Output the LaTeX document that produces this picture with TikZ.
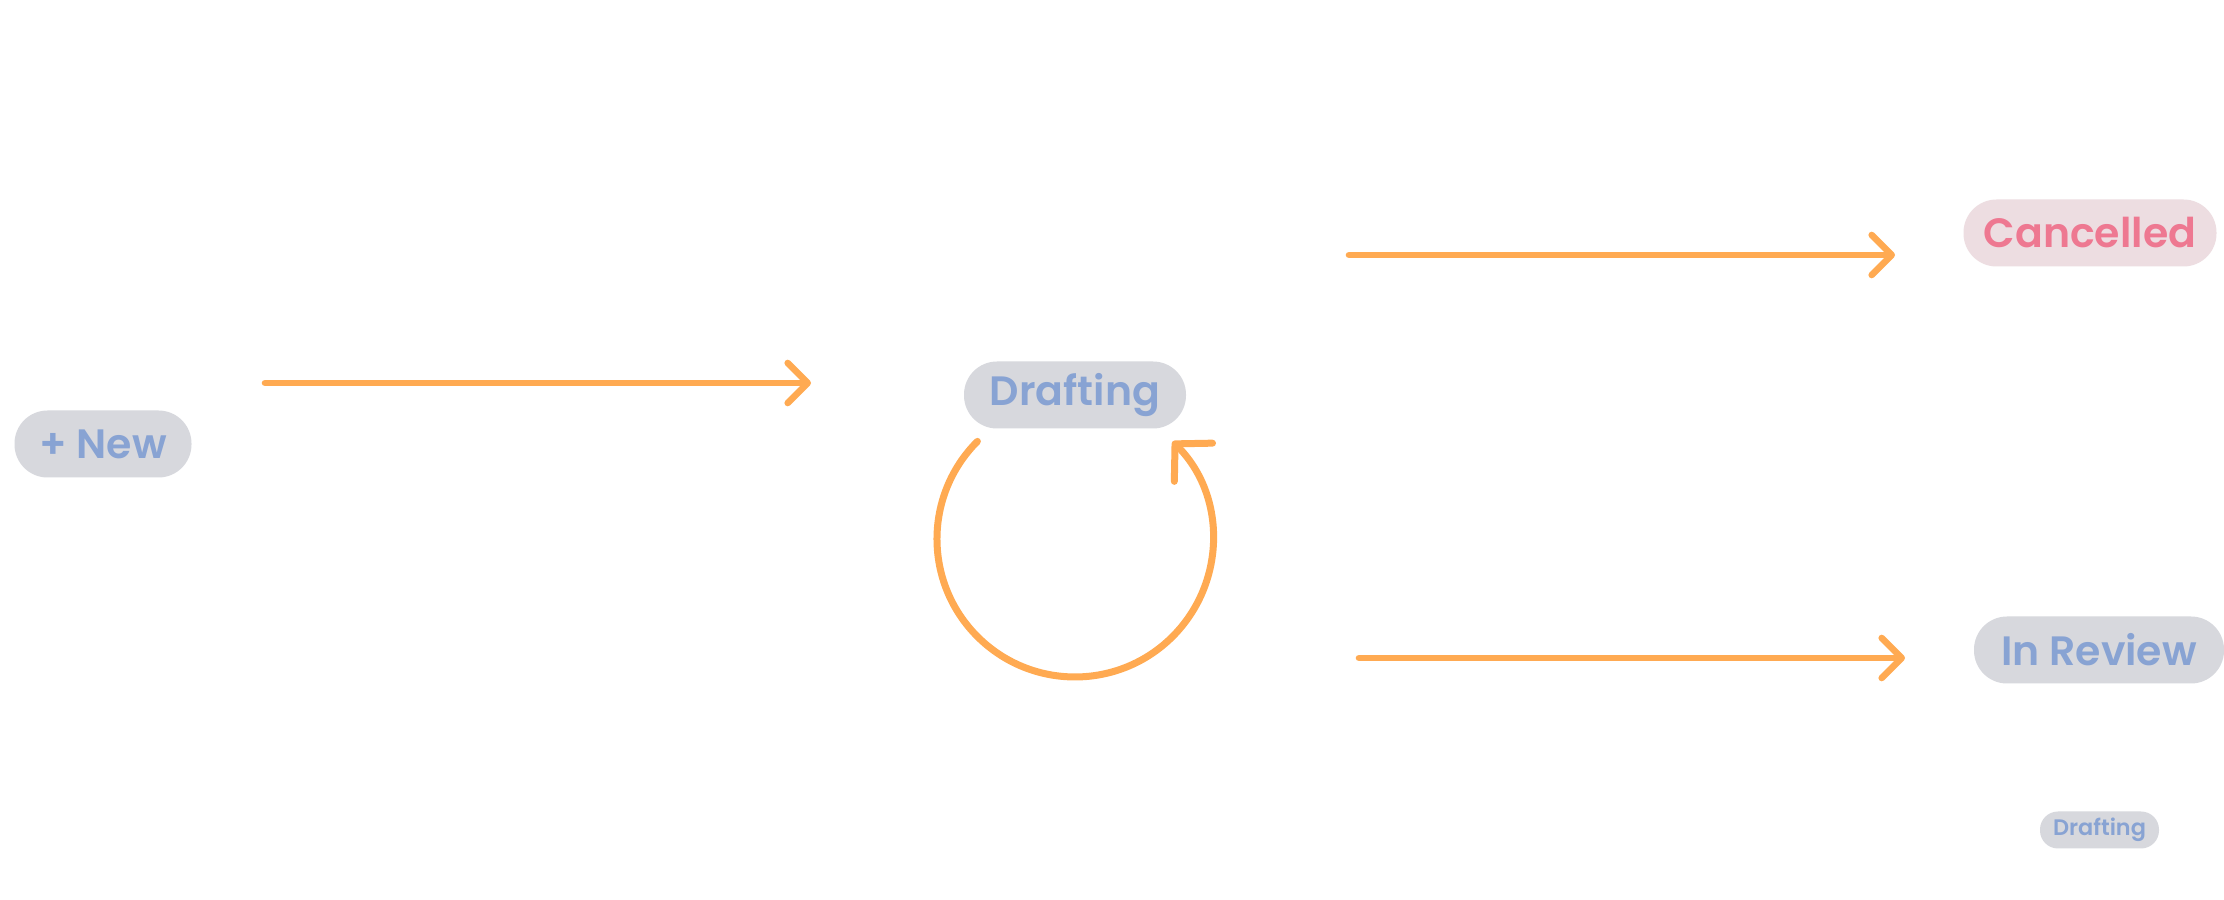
\documentclass[tikz,border=0pt]{standalone}
\usepackage{fontspec}
\setmainfont{Poppins}[BoldFont={Poppins SemiBold}]
\usetikzlibrary{arrows.meta}
\definecolor{pillgray}{HTML}{D7D8DD}
\definecolor{pillblue}{HTML}{88A3D3}
\definecolor{cancelfill}{HTML}{EDDDE1}
\definecolor{canceltext}{HTML}{EE7891}
\definecolor{flow}{HTML}{FFAA52}
\tikzset{
  pill/.style={fill=pillgray, text=pillblue, rounded corners=16.5pt, minimum height=33.5pt,
    inner sep=0pt, font=\fontsize{20.5}{24}\selectfont\bfseries},
  smallpill/.style={fill=pillgray, text=pillblue, rounded corners=9pt, minimum height=18.5pt,
    inner sep=0pt, font=\fontsize{11.2}{13}\selectfont\bfseries},
  cancelpill/.style={pill, fill=cancelfill, text=canceltext},
  flowarrow/.style={draw=flow, line width=3.3pt, line cap=round,
    -{Straight Barb[length=10pt,width=20pt,round]}},
  looparrow/.style={draw=flow, line width=3.5pt, line cap=round,
    -{Straight Barb[length=13pt,width=27pt,round]}}
}
\begin{document}
\begin{tikzpicture}[x=0.5pt,y=0.5pt]
\useasboundingbox[fill=white] (0,0) rectangle (2224,900);
% nodes
\node[pill, minimum width=88.5pt] (new) at (103,456) {+ New};
\node[pill, minimum width=111pt] (drafting) at (1075,505) {Drafting};
\node[cancelpill, minimum width=126.5pt] (cancelled) at (2090,667) {Cancelled};
\node[pill, minimum width=125pt] (review) at (2099,250) {In Review};
\node[smallpill, minimum width=59.5pt] (legend) at (2099.5,70) {Drafting};
% connector ends
\coordinate (a1s) at (265,517);
\coordinate (a1e) at (811,517);
\coordinate (a2s) at (1349,645);
\coordinate (a2e) at (1895,645);
\coordinate (a3s) at (1359,242);
\coordinate (a3e) at (1905,242);
\coordinate (loopS) at (977.4,458.6);
% arrows
\draw[flowarrow] (a1s) -- (a1e);
\draw[flowarrow] (a2s) -- (a2e);
\draw[flowarrow] (a3s) -- (a3e);
\draw[looparrow] (loopS) arc[start angle=135, end angle=405, radius=69pt];
\end{tikzpicture}
\end{document}
